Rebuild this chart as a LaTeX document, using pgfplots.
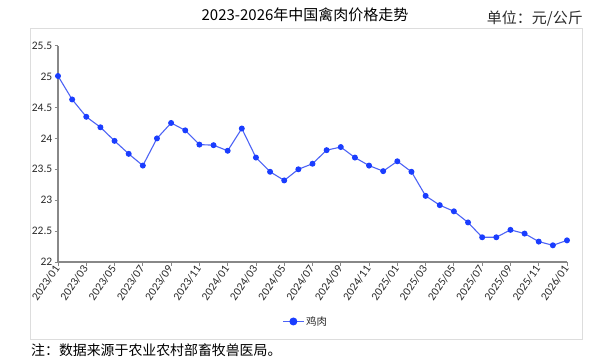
\documentclass[border=0pt]{standalone}
\usepackage{pgfplots}
\pgfplotsset{compat=1.18}
\usepackage{fontspec}
\setmainfont{Carlito}
\newfontfamily\cjk{Noto Sans CJK SC}
\definecolor{linecol}{HTML}{4D63F5}
\definecolor{markcol}{HTML}{1A3DFF}
\definecolor{axisgray}{HTML}{888888}
\definecolor{txtgray}{HTML}{2A2A2A}
\definecolor{framegray}{HTML}{DDDDDD}
\begin{document}
\begin{tikzpicture}
\path (0,0) rectangle (613bp,364bp);
\draw[framegray, line width=0.8bp] (30bp,25bp) rectangle (582bp,336bp);
\node[font=\cjk\fontsize{15bp}{18bp}\selectfont, text=black] at (305bp,349bp) {2023-2026年中国禽肉价格走势};
\node[font=\cjk\fontsize{15bp}{18bp}\selectfont, text=txtgray, anchor=east, inner sep=0pt] at (583bp,345.5bp) {单位：元/公斤};
\node[font=\cjk\fontsize{13.9bp}{16bp}\selectfont, text=black, anchor=west, inner sep=0pt] at (31bp,14bp) {注：数据来源于农业农村部畜牧兽医局。};
\begin{axis}[
  at={(58bp,102bp)}, anchor=south west,
  scale only axis, width=509bp, height=216.3bp,
  xmin=0, xmax=36, ymin=22, ymax=25.5,
  clip=false,
  axis lines*=left,
  axis line style={draw=axisgray, line width=1.3bp},
  tick align=outside, major tick length=3.5bp,
  tick style={draw=axisgray, line width=0.8bp},
  xtick={0,2,...,36},
  xticklabels={2023/01,2023/03,2023/05,2023/07,2023/09,2023/11,2024/01,2024/03,2024/05,2024/07,2024/09,2024/11,2025/01,2025/03,2025/05,2025/07,2025/09,2025/11,2026/01},
  xticklabel style={rotate=55, anchor=east, font=\fontsize{11.5bp}{13bp}\selectfont, text=txtgray, inner sep=1.5bp},
  ytick={22,22.5,23,23.5,24,24.5,25,25.5},
  yticklabels={22,22.5,23,23.5,24,24.5,25,25.5},
  yticklabel style={font=\fontsize{11.5bp}{13bp}\selectfont, text=txtgray, inner sep=2bp},
  legend style={at={(0.487,-0.275)}, anchor=center, draw=none, fill=none,
    font=\cjk\fontsize{10.5bp}{12bp}\selectfont, text=txtgray},
  legend image code/.code={\draw[mark repeat=2,mark phase=2,mark size=3.4bp] plot coordinates {(0cm,0cm)(0.36cm,0cm)(0.72cm,0cm)};},
]
\addplot[color=linecol, line width=1.1bp, mark=*, mark size=2.4bp, mark options={fill=markcol, draw=markcol}]
coordinates {
(0,25.01)(1,24.63)(2,24.35)(3,24.18)(4,23.96)(5,23.75)(6,23.56)(7,24.00)(8,24.25)(9,24.13)
(10,23.90)(11,23.89)(12,23.80)(13,24.16)(14,23.69)(15,23.46)(16,23.32)(17,23.50)(18,23.59)(19,23.81)
(20,23.86)(21,23.69)(22,23.56)(23,23.47)(24,23.63)(25,23.46)(26,23.07)(27,22.92)(28,22.82)(29,22.64)
(30,22.40)(31,22.40)(32,22.52)(33,22.46)(34,22.33)(35,22.27)(36,22.35)
};
\addlegendentry{鸡肉}
\end{axis}
\end{tikzpicture}
\end{document}
